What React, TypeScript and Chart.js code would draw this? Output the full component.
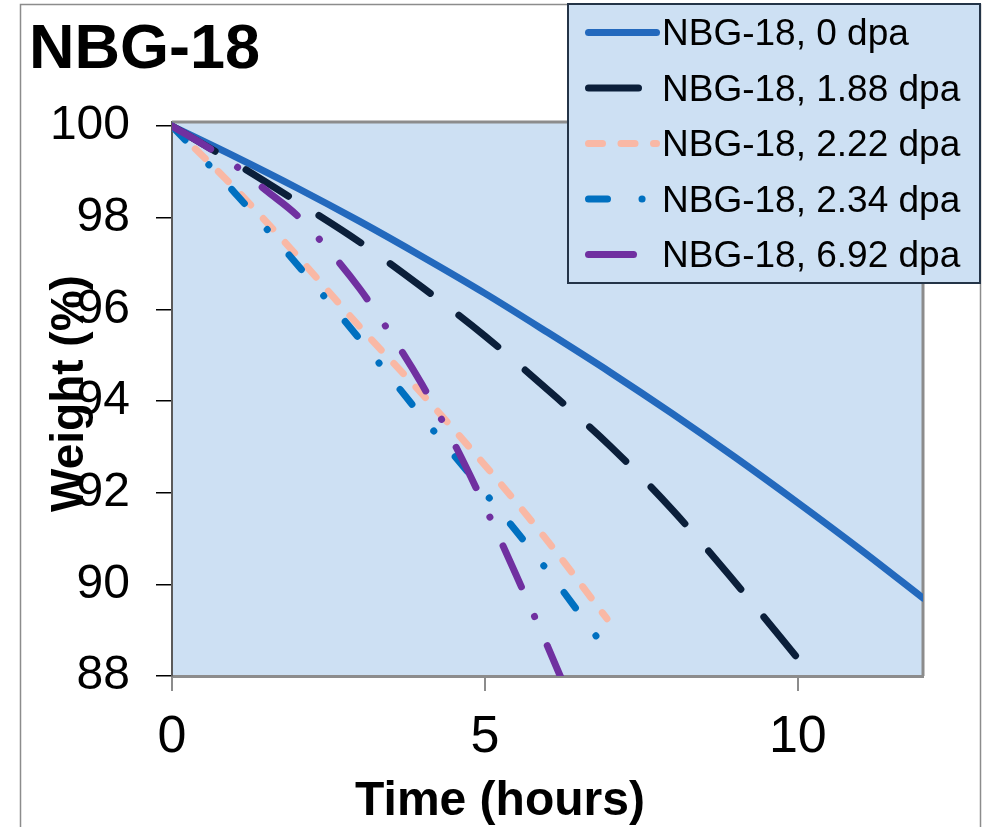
import React, { useEffect, useRef } from "react";
import { Chart, registerables } from "chart.js";

Chart.register(...registerables);

const FONT = '"Liberation Sans", Arial, Helvetica, sans-serif';

const chartTitle = "NBG-18";
const xAxisTitle = "Time (hours)";
const yAxisTitle = "Weight (%)";

const seriesNames = [
  "NBG-18, 0 dpa",
  "NBG-18, 1.88 dpa",
  "NBG-18, 2.22 dpa",
  "NBG-18, 2.34 dpa",
  "NBG-18, 6.92 dpa",
];

const time0dpa = [0, 1, 2, 3, 4, 5, 6, 7, 8, 9, 10, 11, 12];
const weight0dpa = [100, 99.34, 98.65, 97.92, 97.15, 96.35, 95.5, 94.63, 93.72, 92.77, 91.78, 90.76, 89.7];

const time188dpa = [0, 1, 2, 3, 4, 5, 6, 7, 8, 9, 10.05];
const weight188dpa = [100, 99.2, 98.35, 97.47, 96.48, 95.42, 94.25, 93.02, 91.62, 90.04, 88.3];

const time222dpa = [0, 1, 2, 3, 4, 5, 6, 6.95];
const weight222dpa = [100, 98.65, 97.17, 95.62, 94.15, 92.6, 90.95, 89.25];

const time234dpa = [0, 1, 2, 3, 4, 5, 6, 6.87];
const weight234dpa = [100, 98.55, 96.98, 95.35, 93.65, 92.0, 90.3, 88.7];

const time692dpa = [0, 0.5, 1, 1.5, 2, 2.5, 3, 3.5, 4, 4.5, 5, 5.5, 6, 6.25];
const weight692dpa = [100, 99.6, 99.15, 98.6, 98.05, 97.3, 96.45, 95.45, 94.35, 93.1, 91.7, 90.2, 88.65, 87.85];

const seriesTimes = [time0dpa, time188dpa, time222dpa, time234dpa, time692dpa];
const seriesWeights = [weight0dpa, weight188dpa, weight222dpa, weight234dpa, weight692dpa];

const seriesColors = ["#2369BD", "#0B1F3A", "#F9B8A5", "#0070C0", "#7030A0"];
const seriesDashes: number[][] = [[], [50, 36], [14, 18.5], [19, 34.5, 0.1, 33.5], [45, 32.5, 0.1, 31.5]];

const xMin = 0;
const xMax = 12;
const xStep = 5;
const yMin = 88;
const yMax = 100.09;
const yStep = 2;

const plotFill = "#CDE0F3";
const frameGray = "#8C8C8C";

const decorPlugin = {
  id: "decor",
  beforeDraw(chart: any) {
    const { ctx, chartArea } = chart;
    ctx.save();
    ctx.fillStyle = "#ffffff";
    ctx.fillRect(0, 0, chart.width, chart.height);
    ctx.strokeStyle = frameGray;
    ctx.lineWidth = 1.5;
    ctx.strokeRect(20.5, 4.5, 960, 900);
    ctx.fillStyle = plotFill;
    ctx.fillRect(chartArea.left, chartArea.top, chartArea.right - chartArea.left, chartArea.bottom - chartArea.top);
    ctx.fillStyle = "#000";
    ctx.font = `bold 63px ${FONT}`;
    ctx.textBaseline = "alphabetic";
    ctx.textAlign = "left";
    ctx.fillText(chartTitle, 29, 68);
    // axis titles
    ctx.font = `bold 48px ${FONT}`;
    ctx.textAlign = "center";
    ctx.fillText(xAxisTitle, 500, 815);
    ctx.save();
    ctx.translate(83, 393.5);
    ctx.rotate(-Math.PI / 2);
    ctx.font = `bold 46px ${FONT}`;
    ctx.textAlign = "center";
    ctx.fillText(yAxisTitle, 0, 0);
    ctx.restore();
    ctx.restore();
  },
  beforeDatasetsDraw(chart: any) {
    const { ctx, chartArea } = chart;
    ctx.save();
    ctx.strokeStyle = frameGray;
    ctx.lineWidth = 3;
    ctx.beginPath();
    ctx.moveTo(chartArea.left, chartArea.top);
    ctx.lineTo(chartArea.right, chartArea.top);
    ctx.lineTo(chartArea.right, chartArea.bottom);
    ctx.stroke();
    ctx.restore();
  },
  afterDraw(chart: any) {
    const { ctx } = chart;
    ctx.save();
    const bx = 568, by = 4, bw = 412, bh = 279;
    ctx.fillStyle = plotFill;
    ctx.fillRect(bx, by, bw, bh);
    ctx.strokeStyle = "#243447";
    ctx.lineWidth = 2;
    ctx.strokeRect(bx, by, bw, bh);
    ctx.font = `37px ${FONT}`;
    ctx.textAlign = "left";
    ctx.textBaseline = "alphabetic";
    seriesNames.forEach((name, i) => {
      const base = 45 + i * 55.5;
      const ly = base - 12.5;
      ctx.beginPath();
      ctx.setLineDash(seriesDashes[i]);
      ctx.lineCap = "round";
      ctx.lineWidth = 7;
      ctx.strokeStyle = seriesColors[i];
      ctx.moveTo(588.5, ly);
      ctx.lineTo(656.5, ly);
      ctx.stroke();
      ctx.setLineDash([]);
      ctx.fillStyle = "#000";
      ctx.fillText(name, 662, base);
    });
    ctx.restore();
  },
};

export default function App() {
  const canvasRef = useRef<HTMLCanvasElement | null>(null);

  useEffect(() => {
    const canvas = canvasRef.current;
    if (!canvas) return;
    const datasets = seriesNames.map((name, i) => ({
      label: name,
      data: seriesTimes[i].map((t, j) => ({ x: t, y: seriesWeights[i][j] })),
      borderColor: seriesColors[i],
      backgroundColor: seriesColors[i],
      borderWidth: 7,
      borderDash: seriesDashes[i],
      borderCapStyle: "round" as const,
      borderJoinStyle: "round" as const,
      pointRadius: 0,
      pointHoverRadius: 0,
      fill: false,
      tension: 0.4,
      cubicInterpolationMode: "monotone" as const,
      clip: 0,
      order: seriesNames.length - 1 - i,
    }));

    const chart = new Chart(canvas, {
      type: "line",
      data: { datasets },
      options: {
        responsive: false,
        animation: false,
        devicePixelRatio: 1,
        layout: { padding: { left: 0, top: 122, right: 69, bottom: 0 } },
        plugins: {
          legend: { display: false },
          title: { display: false },
          tooltip: { enabled: false },
        },
        scales: {
          x: {
            type: "linear",
            min: xMin,
            max: xMax,
            ticks: {
              stepSize: xStep,
              includeBounds: false,
              color: "#000",
              font: { family: FONT, size: 52 },
              padding: 15,
              maxRotation: 0,
            },
            grid: {
              drawOnChartArea: false,
              drawTicks: true,
              tickLength: 15,
              color: frameGray,
              lineWidth: 2,
            },
            border: { display: true, color: frameGray, width: 3 },
            title: { display: false },
            afterFit(scale: any) {
              scale.height = 151;
            },
          },
          y: {
            type: "linear",
            min: yMin,
            max: yMax,
            ticks: {
              stepSize: yStep,
              includeBounds: false,
              color: "#000",
              font: { family: FONT, size: 48 },
              padding: 26,
            },
            grid: {
              drawOnChartArea: false,
              drawTicks: true,
              tickLength: 16,
              color: "#000",
              lineWidth: 1.5,
            },
            border: { display: true, color: "#5A5A5A", width: 2 },
            title: { display: false },
            afterFit(scale: any) {
              scale.width = 172;
            },
          },
        },
      },
      plugins: [decorPlugin],
    });
    return () => chart.destroy();
  }, []);

  return (
    <div style={{ position: "absolute", left: 0, top: 0, width: 992, height: 827, overflow: "hidden" }}>
      <canvas ref={canvasRef} width={992} height={827} style={{ display: "block" }} />
    </div>
  );
}
